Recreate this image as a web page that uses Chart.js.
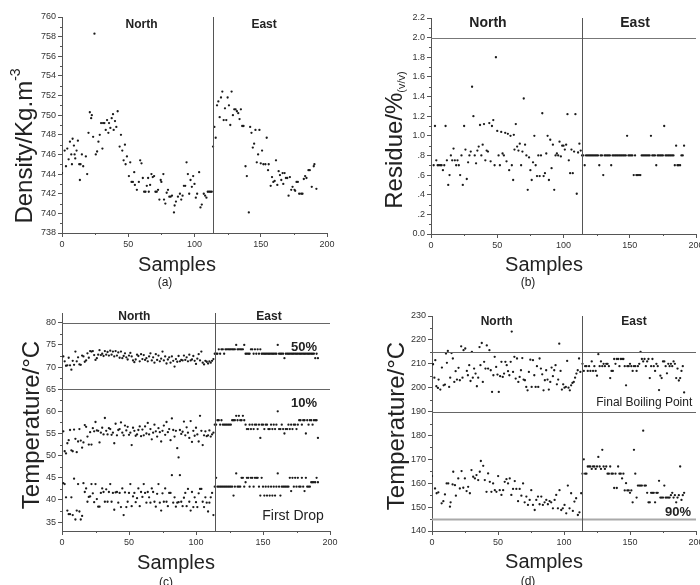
<!DOCTYPE html>
<html>
<head>
<meta charset="utf-8">
<script src="https://cdn.jsdelivr.net/npm/chart.js@4.4.1/dist/chart.umd.min.js"></script>
<style>
  body { margin: 0; background: #fff; }
  #wrap { position: relative; width: 700px; height: 585px; overflow: hidden; }
  canvas { position: absolute; }
</style>
</head>
<body>
<div id="wrap">
  <canvas id="panelA" width="350" height="292" style="left:0;top:0"></canvas>
  <canvas id="panelB" width="350" height="292" style="left:350px;top:0"></canvas>
  <canvas id="panelC" width="350" height="293" style="left:0;top:292px"></canvas>
  <canvas id="panelD" width="350" height="293" style="left:350px;top:292px"></canvas>
</div>
<script>
// sample where the East samples start
const eastStart = 114;
const xTicks = [0, 50, 100, 150, 200];

// (a) density, [sample, kg/m3]
const densityNorth = [[0,744.1],[2,746.4],[3,744.8],[4,746.6],[5,745.5],[6,747.3],[7,746.0],[7.5,745.0],[8,747.6],[9,746.9],[9.5,746.0],[10,745.6],[11,746.4],[12,747.4],[13,745.0],[13.5,743.4],[14,745.0],[15,746.0],[16,744.8],[18,745.8],[19,744.0],[20,748.2],[21,750.3],[22,749.7],[22.5,750.0],[23.5,747.8],[24.5,758.3],[25.5,746.0],[26.5,746.3],[27.5,747.3],[28.5,748.0],[29.5,749.2],[30.5,746.6],[31,749.2],[32,749.2],[33,748.5],[34,749.5],[35,748.2],[35.5,749.2],[36.5,748.7],[37.5,749.7],[38.5,750.1],[39,748.5],[40,749.4],[41,748.8],[42,750.4],[43.5,746.8],[44.5,748.0],[45.5,746.4],[46.5,745.4],[47.5,747.0],[48,745.0],[49,745.8],[50.5,743.8],[51.5,745.2],[52.5,743.2],[53.5,743.2],[54.5,744.2],[55,742.9],[56.5,742.4],[58,743.2],[59,745.4],[60,745.1],[61,743.6],[62,742.2],[63,742.2],[64,742.8],[65,743.6],[65.5,742.2],[66.5,742.9],[67.5,744.0],[68.5,743.7],[69.5,743.8],[70.5,742.2],[71.5,742.2],[72.5,742.4],[73.5,741.4],[74.5,743.4],[75,743.2],[76.5,744.0],[77,741.4],[78,741.0],[79,742.1],[80,742.4],[81,741.7],[82,741.7],[83,741.8],[84.5,740.1],[85,740.8],[86,741.2],[87.5,741.7],[89,742.0],[90,741.4],[91,741.8],[92,742.8],[93,742.8],[94,745.2],[95,744.0],[96,742.0],[97,743.4],[98,742.7],[99,743.8],[100,743.0],[101,741.6],[102,742.0],[103.5,744.2],[104.5,740.6],[105.5,740.9],[107,742.0],[108,741.8],[109,741.6],[110,742.2],[111,742.2],[112,742.2],[113,742.2]];
const densityEast = [[114,746.8],[115,748.8],[116,747.7],[117,751.0],[118,751.4],[119,749.8],[120,751.8],[121,752.4],[122,749.5],[123,750.7],[124,749.5],[125,751.8],[126,751.0],[127,749.0],[128,752.4],[129,750.0],[130,750.6],[131,750.6],[132,750.4],[133,750.2],[134,749.6],[135,750.6],[136,748.9],[137,748.9],[138.5,744.8],[139.5,743.8],[141,740.1],[142,748.8],[143,748.2],[144,746.7],[145,747.1],[146,748.5],[147,745.2],[148,746.0],[149,748.5],[150,745.1],[151,746.4],[152,745.0],[153.5,745.0],[154.5,747.7],[155.5,744.4],[156,745.0],[157.5,742.8],[158.5,743.7],[159.5,743.2],[160.5,743.3],[161.5,745.4],[162.5,742.9],[163.5,744.3],[164.5,743.9],[165.5,743.4],[166.5,744.1],[167,743.0],[168,744.1],[169,743.6],[170,743.6],[171,741.8],[172,743.7],[173,742.4],[174,742.7],[175.5,742.4],[176,742.3],[177,743.2],[178,743.2],[179,742.0],[180.5,742.0],[181.5,742.0],[182.5,743.5],[183.5,743.8],[184.5,743.6],[186,744.4],[187,744.4],[188.5,742.7],[190,744.8],[190.5,745.0],[192,742.5]];
const densityTicks = [738,740,742,744,746,748,750,752,754,756,758,760];

// (b) residue, % v/v
const residueNorth = [[2,0.7],[3,1.1],[4,0.75],[5,0.7],[6,0.7],[7,0.7],[8,0.7],[9,0.65],[10,0.7],[11,1.1],[12,0.75],[13,0.5],[14,0.6],[15,0.8],[16,0.75],[17,0.87],[18,0.75],[19,0.7],[20,0.75],[21,0.7],[22,0.6],[23,0.8],[24,0.5],[25,1.1],[26,0.86],[27,0.56],[28,0.73],[29,0.8],[30,0.84],[31,1.5],[32,1.2],[33,0.8],[34,0.72],[35,0.85],[36,0.89],[37,1.11],[38,0.8],[39,0.91],[40,1.12],[41,0.75],[42,0.85],[43,0.84],[44,1.13],[45,0.74],[46,1.1],[47,1.16],[48,0.7],[49,1.8],[50,1.05],[51,0.8],[52,0.7],[53,1.04],[54,0.82],[55,0.8],[56,1.03],[57,0.74],[58,1.02],[59,0.65],[60,1.0],[61,0.7],[62,0.55],[62.5,1.01],[63,0.86],[64,1.12],[65,0.89],[66,0.85],[67,0.92],[68,0.7],[69,0.84],[70,1.38],[71,0.91],[72,0.8],[73,0.45],[74,0.78],[75,0.65],[76,0.55],[77,0.73],[78,1.0],[79,0.7],[80,0.59],[81,0.8],[82,0.59],[83,0.8],[84,1.23],[85,0.59],[86,0.62],[87,0.82],[88,1.0],[89,0.55],[90,0.96],[91,0.67],[92,0.91],[93,0.45],[94,0.8],[95,0.82],[96,0.8],[97,0.94],[98,0.79],[99,0.9],[100,0.9],[101,0.86],[102,0.91],[103,1.22],[104,0.75],[105,0.62],[106,0.86],[107,0.62],[108,0.84],[109,1.22],[110,0.41],[111,0.83],[112,0.92],[113,0.85]];
// one value per sample from eastStart
const residueEast = [0.8,0.8,0.7,0.8,0.8,0.8,0.8,0.8,0.8,0.8,0.8,0.8,0.8,0.7,0.8,0.8,0.6,0.8,0.8,0.8,0.8,0.8,0.7,0.8,0.8,0.8,0.8,0.8,0.8,0.8,0.8,0.8,0.8,0.8,1.0,0.8,0.8,0.8,0.8,0.6,0.8,0.6,0.6,0.6,0.6,0.8,0.8,0.8,0.8,0.8,0.8,0.8,1.0,0.8,0.8,0.8,0.7,0.8,0.8,0.8,0.8,0.8,1.1,0.8,0.8,0.8,0.8,0.8,0.8,0.8,0.7,0.9,0.7,0.7,0.7,0.8,0.8,0.9];
const residueTicks = [0,0.2,0.4,0.6,0.8,1.0,1.2,1.4,1.6,1.8,2.0,2.2];

// (c) distillation temperatures, one value per sample (North from 1, East from eastStart)
const t50North = [72.4,71.3,70.3,70.4,72.1,70.4,69.4,71.4,70.5,73.5,71.3,72.2,70.6,70.5,72.6,72.4,71.2,71.5,73.1,72.1,73.6,73.5,73.6,72.7,71.6,72.0,72.8,73.8,72.7,73.0,72.5,73.6,72.8,73.4,72.6,73.7,72.8,73.5,72.4,73.6,72.6,73.3,72.1,73.5,72.0,72.5,73.1,72.2,71.7,72.6,73.2,72.4,71.5,71.1,71.7,72.8,72.5,71.3,72.9,71.8,72.7,71.6,72.0,71.3,72.4,73.1,71.5,72.2,71.0,72.9,71.6,72.6,71.3,71.9,73.5,71.5,72.4,70.8,71.7,72.2,71.0,72.4,71.4,70.1,71.8,71.2,72.5,71.3,71.6,71.5,72.6,71.6,72.2,71.3,72.8,71.5,71.7,72.5,71.4,70.7,71.9,72.9,71.5,73.5,71.0,70.6,71.4,71.2,70.8,71.3,71.0,71.4,71.8];
const t50East = [73,73,73,74,73,74,74,73,74,74,74,74,74,74,74,74,75,74,74,74,74,74,75,73,73,73,73,74,74,73,74,73,74,73,74,73,73,73,73,73,73,73,73,73,73,73,73,75,73,73,73,73,72,73,73,73,73,73,73,73,73,73,73,73,73,73,73,73,73,73,73,73,73,73,73,72,73,72];
const t10North = [55.5,51.0,50.5,52.8,53.5,55.8,51.2,51.0,55.9,53.8,50.8,53.2,56.0,53.4,51.8,53.0,56.9,56.5,54.3,52.5,55.3,52.5,56.2,55.5,57.6,55.7,55.6,53.0,55.2,56.3,54.8,58.5,55.6,54.8,56.2,56.0,54.7,55.2,52.8,57.2,54.6,55.8,56.0,57.5,55.2,54.6,56.8,55.7,56.5,54.7,55.2,52.4,56.3,55.6,54.5,54.8,55.8,56.6,54.4,55.9,54.6,56.6,55.0,57.4,54.8,56.0,53.7,55.2,57.0,55.5,54.3,56.2,55.3,53.2,55.6,56.8,54.7,57.6,55.3,56.0,53.5,58.4,55.8,54.3,55.6,51.7,49.6,55.8,54.9,55.4,57.7,54.6,56.4,55.2,54.0,57.8,53.1,55.6,54.5,56.3,54.8,53.2,59.0,55.6,52.4,54.6,55.5,54.4,54.6,55.7,54.3,54.8,55.2];
const t10East = [57,57,58,58,57,58,57,57,57,57,57,57,57,58,58,58,59,58,59,58,58,59,58,57,56,56,57,56,57,56,57,57,56,57,54,57,57,56,57,57,56,56,57,56,57,56,57,60,56,56,57,56,55,56,56,57,56,57,56,57,57,56,57,58,58,57,58,58,55,58,57,58,58,57,58,58,58,54];
const firstDropNorth = [43.8,43.6,40.6,37.6,36.8,36.8,40.6,36.6,44.8,35.6,37.6,43.6,37.4,35.6,36.4,43.8,41.8,42.6,39.6,40.7,40.8,43.6,41.5,39.5,43.6,40.2,38.5,38.5,41.6,42.6,41.8,39.6,42.4,39.6,41.8,43.6,39.6,41.6,37.8,41.7,41.8,39.4,41.6,38.4,42.6,36.6,41.7,38.4,39.6,41.6,43.6,38.6,40.8,41.6,39.5,40.4,42.6,38.6,41.8,40.7,43.6,41.6,39.4,41.8,40.6,39.4,42.6,41.8,39.6,38.5,41.4,43.6,39.4,37.6,41.5,39.6,42.6,39.6,38.6,41.6,41.6,45.6,39.4,40.6,38.5,39.4,39.5,45.6,39.6,38.6,40.5,41.6,38.6,42.5,39.6,37.6,41.8,38.4,40.6,39.5,38.4,41.5,42.5,42.5,39.6,38.4,40.6,39.4,37.4,39.4,40.6,41.6,36.6];
const firstDropEast = [43,45,43,43,43,43,43,43,43,43,43,43,43,43,41,43,46,43,43,43,45,45,43,44,45,45,43,45,45,43,45,45,45,43,41,45,43,41,43,41,43,41,43,41,43,41,43,46,43,41,43,43,43,43,43,43,45,42,45,43,45,43,45,43,43,45,43,42,45,43,43,43,44,44,44,44,45,44];
const tempLowTicks = [35,40,45,50,55,60,65,70,75,80];

// (d) final boiling point and 90 % point, [sample, °C] for North
const fbpNorth = [[0.8,209.8],[1.8,204.2],[2.5,211.5],[3.3,200.6],[4.5,199.9],[5,203.4],[6.3,199.2],[7.5,208.4],[8.8,201],[9.8,201.3],[10.6,214.3],[11.3,210.4],[12,215.4],[13,200.3],[13.8,204.2],[14.8,214.5],[15.8,212.2],[16.9,202.4],[17.9,206.9],[18.9,203.4],[20.1,208.3],[21.1,203.1],[22.1,217.3],[23.1,204.2],[23.9,215.7],[25.2,216.4],[26.4,207],[27.2,205.2],[28.2,209.4],[29.2,202.8],[30.2,215],[30.9,204.2],[31.9,208],[33,205.9],[34,200.6],[35,204.2],[36,217],[36.7,209.4],[37.7,218.7],[38.5,202.4],[39.5,210.8],[40.5,208],[41.5,217.7],[42.5,208],[43.5,215.7],[44.5,207.3],[45.5,198.2],[46.5,205.2],[47.5,212.9],[48.6,208.7],[49.6,205.5],[50.6,198.2],[51.6,204.8],[52.6,210.8],[53.6,204.5],[54.6,205.9],[55.6,210.8],[56.6,209.4],[57.6,206.9],[58.6,205.2],[59.6,210.8],[60.4,223.5],[61.4,206.6],[62.4,212.9],[63.4,203.8],[64.4,212.2],[65.4,202.4],[66.4,204.5],[67.4,207.3],[68.4,212.4],[69.4,203.4],[70.4,203.1],[71.4,200.3],[72.4,198.9],[73.4,206.6],[74.5,211.7],[75.5,200.3],[76.5,211.5],[77.5,205.2],[78.5,200.3],[79.5,209],[80.5,200.3],[81.5,212.2],[82.5,208],[83.5,205.6],[84.5,198.9],[85.5,203.1],[86.5,207.3],[87.5,203.4],[88.5,199.2],[89.6,202.4],[90.6,208.4],[91.6,204.8],[92.6,207.3],[93.6,209.4],[94.6,201.4],[95.6,203.4],[96.4,218.4],[97.4,207],[98.4,199.2],[99.4,201.4],[100.4,200],[101.4,200.3],[102.4,211.2],[103.4,200],[104.4,198.9],[105.4,201],[106.4,202],[107.4,202.4],[108.4,204.2],[109.4,205.9],[110.4,207.3],[111.4,212.2],[112.4,206.6]];
const fbpEast = [210,207,209,209,207,209,207,211,207,209,207,205,214,209,211,209,210,209,210,210,209,204,207,207,212,210,212,212,209,212,212,212,209,201,209,209,210,209,207,209,209,207,209,210,215,212,211,212,209,211,212,204,209,212,209,207,210,209,199,205,204,211,211,209,206,210,209,210,209,211,210,204,208,203,204,207,209,198];
const t90North = [[0,163],[2.3,157.8],[3.5,155.8],[4.8,156.2],[7.3,151.6],[8.6,152.5],[9.8,155.3],[11.1,159.9],[12.3,159.9],[13.6,150.2],[14.1,152],[15.6,159.5],[16.1,164.8],[17.4,159.2],[18.1,154.8],[19.9,162],[21.1,157.8],[22.4,165.1],[23.7,158.1],[24.9,162],[26.2,156.7],[27.4,158.5],[28.7,155.8],[29.9,165.5],[31.2,162.7],[32.5,162],[33.7,163.4],[35,161.3],[36.2,164.8],[37,169.3],[38.8,167.3],[40,161.3],[41.3,156.4],[42.5,164.1],[43.8,160.6],[45,156.4],[46.3,159.9],[47.6,157.1],[48.8,156.4],[50.1,163],[51.3,157.1],[52.6,155.1],[53.9,157.1],[55.1,160.6],[56.4,161.7],[57.6,159.9],[58.9,162],[60.1,155.1],[61.4,157.6],[62.7,160.9],[63.9,157.6],[65.2,152.5],[66.4,157.6],[67.7,154.8],[69,159.9],[70.2,152],[71.5,154.4],[72.7,150.9],[74,153],[75.2,157.1],[76.5,150.9],[77.8,148.8],[79,153],[80.3,154.4],[81.5,151.2],[82.8,154.4],[84,150.9],[85.3,152],[86.6,153],[87.8,151.2],[89.1,152.5],[90.3,152],[91.6,149.5],[92.9,153],[94.1,155.1],[95.4,149.5],[96.6,157.1],[97.9,148.8],[99.1,149.5],[100.4,150.9],[101.7,147.4],[102.9,159],[104.2,149.5],[105.4,155.8],[106.7,148.4],[107.9,152.3],[109.2,153.7],[110.5,146.7],[111.7,147.8],[113,155.8]];
const t90East = [164,170,164,164,167,167,167,166,167,167,166,167,171,167,166,174,167,166,167,164,164,167,164,164,158,164,158,167,164,164,162,164,157,160,157,157,156,157,152,174,164,154,159,159,159,159,182,159,159,156,152,152,156,156,156,152,156,156,161,154,154,154,159,154,154,154,154,155,156,154,155,152,154,155,167,153,155,156];
const tempHighTicks = [140,150,160,170,180,190,200,210,220,230];

const FONT = "'Liberation Sans', Arial, sans-serif";

const pairs = arr => arr.map(([x, y]) => ({ x, y }));
const bySample = (arr, start) => arr.map((y, i) => ({ x: start + i, y }));

function richText(ctx, parts, cx, cy, rotate) {
  ctx.save();
  ctx.translate(cx, cy);
  if (rotate) ctx.rotate(-Math.PI / 2);
  let w = 0;
  parts.forEach(p => { ctx.font = p.font; w += ctx.measureText(p.text).width; });
  let x = -w / 2;
  ctx.textAlign = 'left';
  ctx.textBaseline = 'middle';
  parts.forEach(p => {
    ctx.font = p.font;
    ctx.fillText(p.text, x, -(p.rise || 0));
    x += ctx.measureText(p.text).width;
  });
  ctx.restore();
}

// reference lines, minor ticks, region labels and axis titles
const decor = {
  id: 'decor',
  afterDatasetsDraw(chart, args, o) {
    const { ctx, chartArea: a, scales: { x, y } } = chart;
    ctx.save();
    (o.hLines || []).forEach(l => {
      const py = Math.round(y.getPixelForValue(l.value)) + 0.5;
      ctx.strokeStyle = l.color || '#666';
      ctx.lineWidth = l.width || 1;
      ctx.beginPath(); ctx.moveTo(a.left, py); ctx.lineTo(a.right, py); ctx.stroke();
    });
    const px = Math.round(x.getPixelForValue(eastStart)) + 0.5;
    ctx.strokeStyle = '#555'; ctx.lineWidth = 1;
    ctx.beginPath(); ctx.moveTo(px, a.bottom); ctx.lineTo(px, a.top); ctx.stroke();

    // minor ticks halfway between the major ones
    ctx.strokeStyle = '#555';
    ctx.beginPath();
    for (let i = 0; i < y.ticks.length - 1; i++) {
      const py = Math.round(y.getPixelForValue((y.ticks[i].value + y.ticks[i + 1].value) / 2)) + 0.5;
      ctx.moveTo(a.left - 2, py); ctx.lineTo(a.left, py);
    }
    for (let i = 0; i < x.ticks.length - 1; i++) {
      const qx = Math.round(x.getPixelForValue((x.ticks[i].value + x.ticks[i + 1].value) / 2)) + 0.5;
      ctx.moveTo(qx, a.bottom); ctx.lineTo(qx, a.bottom + 2);
    }
    ctx.stroke();

    ctx.fillStyle = '#222';
    ctx.textAlign = 'center';
    ctx.textBaseline = 'middle';
    (o.labels || []).forEach(t => {
      ctx.font = t.font;
      ctx.fillText(t.text, x.getPixelForValue(t.x), y.getPixelForValue(t.y));
    });

    richText(ctx, o.yTitle, o.yTitlePos[0], o.yTitlePos[1], true);
    richText(ctx, [{ text: 'Samples', font: `20px ${FONT}` }], o.xTitlePos[0], o.xTitlePos[1], false);
    richText(ctx, [{ text: o.caption, font: `12px ${FONT}` }], o.captionPos[0], o.captionPos[1], false);
    ctx.restore();
  }
};

function dotSet(data) {
  return {
    data, pointRadius: 1.15, pointBorderWidth: 0,
    pointBackgroundColor: '#1a1a1a', showLine: false
  };
}

function makePanel(id, p) {
  const el = document.getElementById(id);
  const fitY = s => { s.width = p.left; s.paddingTop = 0; s.paddingBottom = 0; };
  const fitX = s => { s.height = el.height - p.bottom; s.paddingLeft = 0; s.paddingRight = 0; };
  const axisGrid = { display: true, drawOnChartArea: false, drawTicks: true, tickLength: 4, color: '#555' };
  new Chart(el.getContext('2d'), {
    type: 'scatter',
    data: { datasets: p.series.map(dotSet) },
    options: {
      responsive: false,
      animation: false,
      devicePixelRatio: 1,
      layout: { padding: { top: p.top, right: el.width - p.right, left: 0, bottom: 0 } },
      plugins: {
        legend: { display: false },
        tooltip: { enabled: false },
        decor: p.decor
      },
      scales: {
        x: {
          type: 'linear', min: 0, max: 200,
          afterBuildTicks: s => { s.ticks = xTicks.map(v => ({ value: v })); },
          afterFit: fitX,
          grid: axisGrid,
          border: { display: true, color: '#555', width: 1 },
          ticks: { color: '#333', font: { family: FONT, size: 9 }, padding: 2, maxRotation: 0 }
        },
        y: {
          type: 'linear', min: p.yMin, max: p.yMax,
          afterBuildTicks: s => { s.ticks = p.yTicks.map(v => ({ value: v })); },
          afterFit: fitY,
          grid: axisGrid,
          border: { display: true, color: '#555', width: 1 },
          ticks: { color: '#333', font: { family: FONT, size: 9 }, padding: 2, callback: p.fmt || (v => v) }
        }
      }
    },
    plugins: [decor]
  });
}

const regionFont = `bold 12px ${FONT}`;

makePanel('panelA', {
  left: 62, right: 327, top: 17, bottom: 233,
  yMin: 738, yMax: 760, yTicks: densityTicks,
  series: [pairs(densityNorth), pairs(densityEast)],
  decor: {
    labels: [
      { text: 'North', x: 60, y: 759.2, font: regionFont },
      { text: 'East', x: 152.5, y: 759.2, font: regionFont }
    ],
    yTitle: [{ text: 'Density/Kg.m', font: `24px ${FONT}` }, { text: '-3', font: `14px ${FONT}`, rise: 9 }],
    yTitlePos: [25, 146], xTitlePos: [177, 265], caption: '(a)', captionPos: [165, 283]
  }
});

makePanel('panelB', {
  left: 81, right: 347, top: 18, bottom: 234,
  yMin: 0, yMax: 2.2, yTicks: residueTicks,
  fmt: v => (v > 0 && v < 1 ? '.' + Math.round(v * 10) : v.toFixed(1)),
  series: [pairs(residueNorth), bySample(residueEast, eastStart)],
  decor: {
    hLines: [{ value: 2.0, color: '#777' }],
    labels: [
      { text: 'North', x: 43, y: 2.15, font: `bold 14px ${FONT}` },
      { text: 'East', x: 154, y: 2.15, font: `bold 14px ${FONT}` }
    ],
    yTitle: [{ text: 'Residue/%', font: `24px ${FONT}` }, { text: '(v/v)', font: `11px ${FONT}`, rise: -7 }],
    yTitlePos: [45, 140], xTitlePos: [194, 265], caption: '(b)', captionPos: [178, 283]
  }
});

makePanel('panelC', {
  left: 62, right: 330, top: 21, bottom: 239,
  yMin: 33, yMax: 82.2, yTicks: tempLowTicks,
  series: [
    bySample(t50North, 1), bySample(t50East, eastStart),
    bySample(t10North, 1), bySample(t10East, eastStart),
    bySample(firstDropNorth, 1), bySample(firstDropEast, eastStart)
  ],
  decor: {
    hLines: [{ value: 80 }, { value: 65 }],
    labels: [
      { text: 'North', x: 54, y: 81.3, font: regionFont },
      { text: 'East', x: 154.5, y: 81.3, font: regionFont },
      { text: '50%', x: 180.6, y: 74.4, font: `bold 13px ${FONT}` },
      { text: '10%', x: 180.6, y: 61.8, font: `bold 13px ${FONT}` },
      { text: 'First Drop', x: 172.4, y: 36.4, font: `14px ${FONT}` }
    ],
    yTitle: [{ text: 'Temperature/°C', font: `24px ${FONT}` }],
    yTitlePos: [32, 133], xTitlePos: [176, 271], caption: '(c)', captionPos: [166, 291]
  }
});

makePanel('panelD', {
  left: 82, right: 347, top: 24, bottom: 239,
  yMin: 140, yMax: 230, yTicks: tempHighTicks,
  series: [pairs(fbpNorth), bySample(fbpEast, eastStart), pairs(t90North), bySample(t90East, eastStart)],
  decor: {
    hLines: [{ value: 215 }, { value: 190 }, { value: 145, color: '#aaa', width: 2 }],
    labels: [
      { text: 'North', x: 49, y: 227.5, font: regionFont },
      { text: 'East', x: 153, y: 227.5, font: regionFont },
      { text: 'Final Boiling Point', x: 160.8, y: 193.6, font: `12px ${FONT}` },
      { text: '90%', x: 186.4, y: 147.6, font: `bold 13px ${FONT}` }
    ],
    yTitle: [{ text: 'Temperature/°C', font: `24px ${FONT}` }],
    yTitlePos: [47, 134], xTitlePos: [194, 270], caption: '(d)', captionPos: [178, 290]
  }
});
</script>
</body>
</html>
